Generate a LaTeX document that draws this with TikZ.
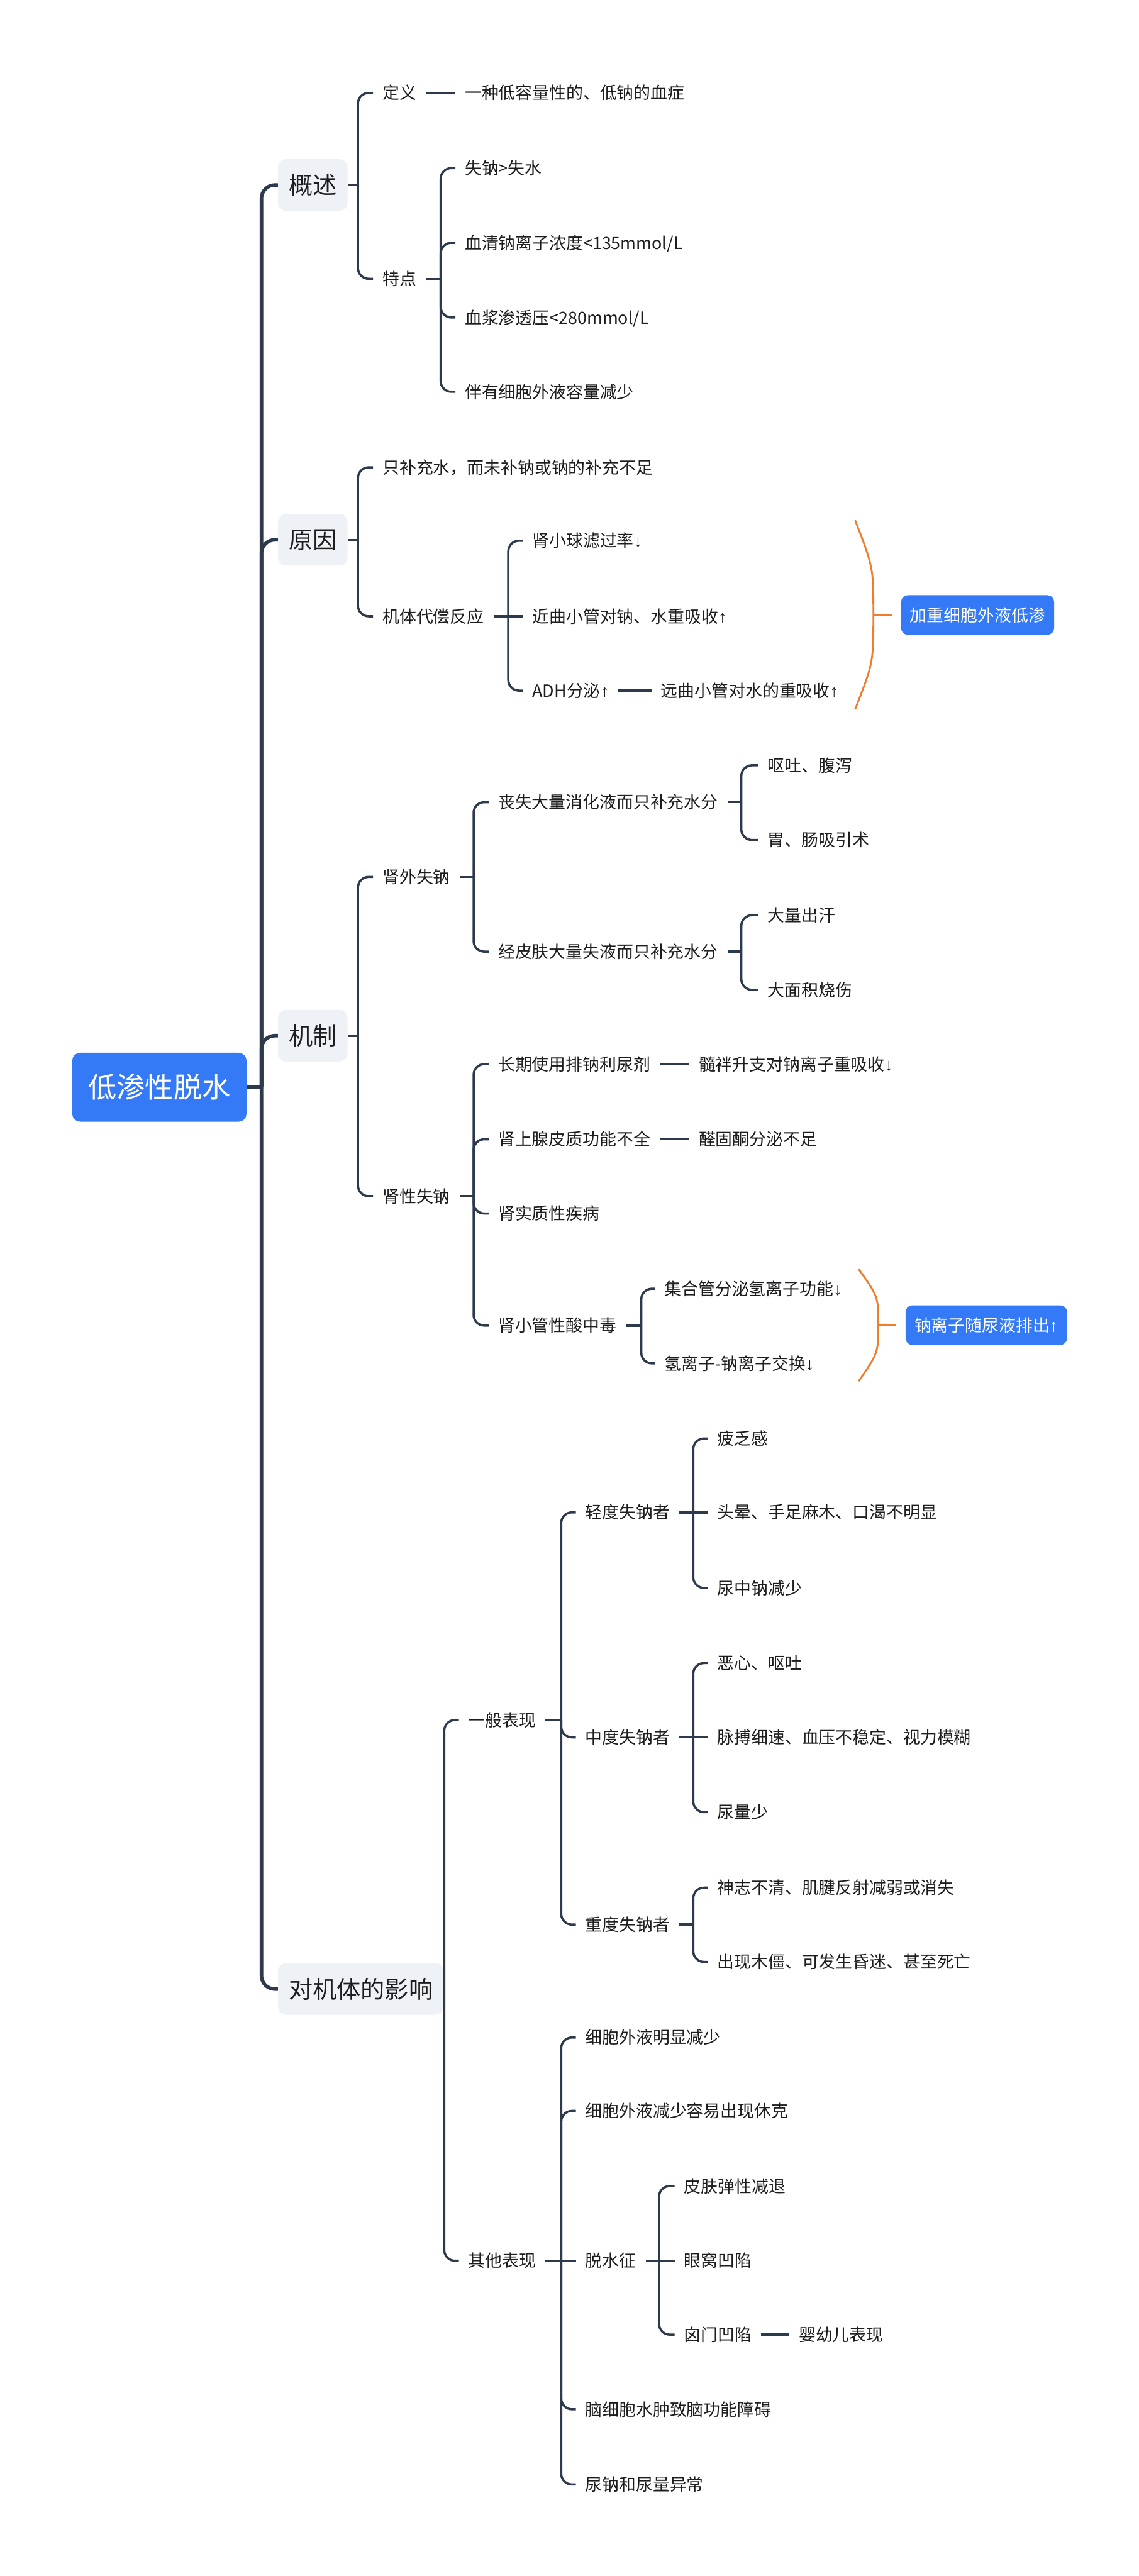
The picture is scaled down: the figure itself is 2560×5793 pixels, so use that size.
\documentclass[tikz,border=0pt]{standalone}
\usepackage{fontspec}
\setmainfont{Noto Sans CJK SC}
\newfontfamily\arrowfont{Liberation Sans}
\usepackage{xcolor}
\usepackage{tikz}
\definecolor{linec}{HTML}{2D3A4C}
\definecolor{ink}{HTML}{1D1D1F}
\definecolor{topicgray}{HTML}{EEF1F5}
\definecolor{rootblue}{HTML}{347AF6}
\definecolor{bracec}{HTML}{F07D2C}
\newcommand{\upmark}{{\arrowfont ↑}}
\newcommand{\downmark}{{\arrowfont ↓}}

\begin{document}
\begin{tikzpicture}[x=0.5pt,y=-0.5pt,
  root/.style={fill=rootblue,text=white,rounded corners=9pt,anchor=west,font=\fontsize{32pt}{38pt}\selectfont,minimum width=196pt,minimum height=77.5pt},
  topic/.style={fill=topicgray,text=ink,rounded corners=8.5pt,anchor=west,font=\fontsize{27pt}{32pt}\selectfont,inner xsep=12pt,minimum height=58pt},
  item/.style={text=ink,anchor=west,font=\fontsize{19pt}{23pt}\selectfont,inner xsep=10.5pt,inner ysep=2pt,text height=16.7pt,text depth=2.3pt},
  summ/.style={fill=rootblue,text=white,rounded corners=7.5pt,anchor=west,font=\fontsize{19pt}{23pt}\selectfont,inner xsep=10pt,minimum height=44.5pt},
  trunk/.style={draw=linec,line width=4pt,rounded corners=15pt},
  link/.style={draw=linec,line width=2.5pt,rounded corners=12pt},
  brace/.style={draw=bracec,line width=2pt}]
\path[fill=white] (0,0) rectangle (2560,5793);
\useasboundingbox (0,0) rectangle (2560,5793);
% root and topics
\node[root] (root) at (162,2445) {低渗性脱水};
\node[topic] (gaishu) at (625,416) {概述};
\node[topic] (yuanyin) at (625,1214) {原因};
\node[topic] (jizhi) at (625,2329) {机制};
\node[topic] (yingxiang) at (625,4473) {对机体的影响};
% gaishu
\node[item] (dingyi) at (839,209) {定义};
\node[item] (dingyiA) at (1024,209) {一种低容量性的、低钠的血症};
\node[item] (tedian) at (839,627) {特点};
\node[item] (tedianA) at (1024,378) {失钠>失水};
\node[item] (tedianB) at (1024,546) {血清钠离子浓度<135mmol/L};
\node[item] (tedianC) at (1024,714) {血浆渗透压<280mmol/L};
\node[item] (tedianD) at (1024,881) {伴有细胞外液容量减少};
% yuanyin
\node[item] (buchong) at (839,1051) {只补充水，而未补钠或钠的补充不足};
\node[item] (daichang) at (839,1386) {机体代偿反应};
\node[item] (daiA) at (1176,1216) {肾小球滤过率\downmark};
\node[item] (daiB) at (1176,1386) {近曲小管对钠、水重吸收\upmark};
\node[item] (daiC) at (1176,1553) {ADH分泌\upmark};
\node[item] (daiCa) at (1465,1553) {远曲小管对水的重吸收\upmark};
\node[summ] (sumA) at (2026,1383) {加重细胞外液低渗};
% jizhi
\node[item] (shenwai) at (839,1972) {肾外失钠};
\node[item] (swA) at (1099,1804) {丧失大量消化液而只补充水分};
\node[item] (swAa) at (1705,1721) {呕吐、腹泻};
\node[item] (swAb) at (1705,1889) {胃、肠吸引术};
\node[item] (swB) at (1099,2140) {经皮肤大量失液而只补充水分};
\node[item] (swBa) at (1705,2058) {大量出汗};
\node[item] (swBb) at (1705,2226) {大面积烧伤};
\node[item] (shenxing) at (839,2690) {肾性失钠};
\node[item] (sxA) at (1099,2393) {长期使用排钠利尿剂};
\node[item] (sxAa) at (1550,2393) {髓袢升支对钠离子重吸收\downmark};
\node[item] (sxB) at (1099,2562) {肾上腺皮质功能不全};
\node[item] (sxBa) at (1550,2562) {醛固酮分泌不足};
\node[item] (sxC) at (1099,2729) {肾实质性疾病};
\node[item] (sxD) at (1099,2981) {肾小管性酸中毒};
\node[item] (sxDa) at (1473,2898) {集合管分泌氢离子功能\downmark};
\node[item] (sxDb) at (1473,3066) {氢离子-钠离子交换\downmark};
\node[summ] (sumB) at (2036,2980) {钠离子随尿液排出\upmark};
% yingxiang
\node[item] (yiban) at (1032,3868) {一般表现};
\node[item] (qingdu) at (1295,3401) {轻度失钠者};
\node[item] (qdA) at (1592,3235) {疲乏感};
\node[item] (qdB) at (1592,3401) {头晕、手足麻木、口渴不明显};
\node[item] (qdC) at (1592,3571) {尿中钠减少};
\node[item] (zhongdu) at (1295,3907) {中度失钠者};
\node[item] (zdA) at (1592,3740) {恶心、呕吐};
\node[item] (zdB) at (1592,3907) {脉搏细速、血压不稳定、视力模糊};
\node[item] (zdC) at (1592,4075) {尿量少};
\node[item] (yanzhong) at (1295,4328) {重度失钠者};
\node[item] (yzA) at (1592,4245) {神志不清、肌腱反射减弱或消失};
\node[item] (yzB) at (1592,4412) {出现木僵、可发生昏迷、甚至死亡};
\node[item] (qita) at (1032,5084) {其他表现};
\node[item] (qtA) at (1295,4582) {细胞外液明显减少};
\node[item] (qtB) at (1295,4747) {细胞外液减少容易出现休克};
\node[item] (tuoshui) at (1295,5084) {脱水征};
\node[item] (tsA) at (1517,4916) {皮肤弹性减退};
\node[item] (tsB) at (1517,5084) {眼窝凹陷};
\node[item] (tsC) at (1517,5250) {囟门凹陷};
\node[item] (tsCa) at (1775,5250) {婴幼儿表现};
\node[item] (qtC) at (1295,5418) {脑细胞水肿致脑功能障碍};
\node[item] (qtD) at (1295,5587) {尿钠和尿量异常};
% spines
\coordinate (rootS) at (588,2445);
\coordinate (gsS) at (805,416);
\coordinate (tdS) at (991,627);
\coordinate (yyS) at (805,1214);
\coordinate (dcS) at (1143,1386);
\coordinate (jzS) at (805,2329);
\coordinate (swS) at (1065,1972);
\coordinate (swAS) at (1667,1804);
\coordinate (swBS) at (1667,2140);
\coordinate (sxS) at (1065,2690);
\coordinate (sxDS) at (1442,2981);
\coordinate (yxS) at (999,4473);
\coordinate (ybS) at (1262,3868);
\coordinate (qdS) at (1559,3401);
\coordinate (zdS) at (1559,3907);
\coordinate (yzS) at (1559,4328);
\coordinate (qtS) at (1262,5084);
\coordinate (tsS) at (1482,5084);
% trunk
\draw[trunk] (root) -- (rootS);
\draw[trunk] (rootS) |- (gaishu);
\draw[trunk] (rootS) |- (yuanyin);
\draw[trunk] (rootS) |- (jizhi);
\draw[trunk] (rootS) |- (yingxiang);
% gaishu links
\draw[link] (gaishu) -- (gsS);
\draw[link] (gsS) |- (dingyi);
\draw[link] (gsS) |- (tedian);
\draw[link] (dingyi) -- (dingyiA);
\draw[link] (tedian) -- (tdS);
\draw[link] (tdS) |- (tedianA);
\draw[link] (tdS) |- (tedianB);
\draw[link] (tdS) |- (tedianC);
\draw[link] (tdS) |- (tedianD);
% yuanyin links
\draw[link] (yuanyin) -- (yyS);
\draw[link] (yyS) |- (buchong);
\draw[link] (yyS) |- (daichang);
\draw[link] (daichang) -- (dcS);
\draw[link] (dcS) |- (daiA);
\draw[link] (dcS) -- (daiB);
\draw[link] (dcS) |- (daiC);
\draw[link] (daiC) -- (daiCa);
% jizhi links
\draw[link] (jizhi) -- (jzS);
\draw[link] (jzS) |- (shenwai);
\draw[link] (jzS) |- (shenxing);
\draw[link] (shenwai) -- (swS);
\draw[link] (swS) |- (swA);
\draw[link] (swS) |- (swB);
\draw[link] (swA) -- (swAS);
\draw[link] (swAS) |- (swAa);
\draw[link] (swAS) |- (swAb);
\draw[link] (swB) -- (swBS);
\draw[link] (swBS) |- (swBa);
\draw[link] (swBS) |- (swBb);
\draw[link] (shenxing) -- (sxS);
\draw[link] (sxS) |- (sxA);
\draw[link] (sxS) |- (sxB);
\draw[link] (sxS) |- (sxC);
\draw[link] (sxS) |- (sxD);
\draw[link] (sxA) -- (sxAa);
\draw[link] (sxB) -- (sxBa);
\draw[link] (sxD) -- (sxDS);
\draw[link] (sxDS) |- (sxDa);
\draw[link] (sxDS) |- (sxDb);
% yingxiang links
\draw[link] (yingxiang) -- (yxS);
\draw[link] (yxS) |- (yiban);
\draw[link] (yxS) |- (qita);
\draw[link] (yiban) -- (ybS);
\draw[link] (ybS) |- (qingdu);
\draw[link] (ybS) |- (zhongdu);
\draw[link] (ybS) |- (yanzhong);
\draw[link] (qingdu) -- (qdS);
\draw[link] (qdS) |- (qdA);
\draw[link] (qdS) -- (qdB);
\draw[link] (qdS) |- (qdC);
\draw[link] (zhongdu) -- (zdS);
\draw[link] (zdS) |- (zdA);
\draw[link] (zdS) -- (zdB);
\draw[link] (zdS) |- (zdC);
\draw[link] (yanzhong) -- (yzS);
\draw[link] (yzS) |- (yzA);
\draw[link] (yzS) |- (yzB);
\draw[link] (qita) -- (qtS);
\draw[link] (qtS) |- (qtA);
\draw[link] (qtS) |- (qtB);
\draw[link] (qtS) -- (tuoshui);
\draw[link] (qtS) |- (qtC);
\draw[link] (qtS) |- (qtD);
\draw[link] (tuoshui) -- (tsS);
\draw[link] (tsS) |- (tsA);
\draw[link] (tsS) -- (tsB);
\draw[link] (tsS) |- (tsC);
\draw[link] (tsC) -- (tsCa);
% summary braces
\coordinate (bAt) at (1923,1170);
\coordinate (bAm) at (1964,1383);
\coordinate (bAb) at (1923,1595);
\draw[brace] (bAt) .. controls (1964,1276) .. (bAm) .. controls (1964,1490) .. (bAb);
\draw[brace,shorten >=10.5pt] (bAm) -- (sumA);
\coordinate (bBt) at (1931,2854);
\coordinate (bBm) at (1975,2979);
\coordinate (bBb) at (1931,3106);
\draw[brace] (bBt) .. controls (1975,2916) .. (bBm) .. controls (1975,3042) .. (bBb);
\draw[brace,shorten >=10.5pt] (bBm) -- (sumB);
\end{tikzpicture}
\end{document}
